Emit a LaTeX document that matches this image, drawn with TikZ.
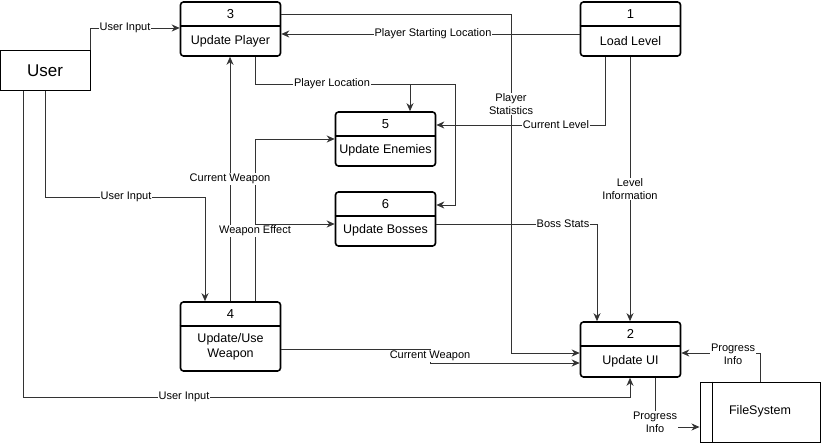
\documentclass[tikz,border=0pt]{standalone}
\usepackage{fontspec}
\setmainfont{Liberation Sans}
\usetikzlibrary{arrows.meta}
\begin{document}
\begin{tikzpicture}[x=1pt,y=-1pt,
  pbox/.style={draw, line width=1.6pt, rounded corners=3pt, minimum width=100pt, inner sep=0pt},
  divline/.style={line width=1.4pt},
  numtxt/.style={font=\fontsize{13}{15}\selectfont, inner sep=0pt},
  boxtxt/.style={font=\fontsize{12.5}{14.5}\selectfont, inner sep=0pt, align=center},
  conn/.style={line width=0.9pt, draw=black!80},
  arr/.style={conn, -{Stealth[length=8pt,width=7pt,inset=2.5pt]}},
  lbl/.style={fill=white, inner sep=0.6pt, font=\fontsize{11}{13}\selectfont, align=center}
]
\useasboundingbox (0,0) rectangle (821,443);

% external entities
\node[draw, line width=1pt, minimum width=90pt, minimum height=40pt, inner sep=0pt,
      font=\fontsize{17}{20}\selectfont] (user) at (45,71) {User};
\node[draw, line width=1pt, minimum width=120pt, minimum height=60pt, inner sep=0pt] (fs) at (760,412) {};
\draw[line width=1pt] (fs.north -| 712,0) -- (fs.south -| 712,0);
\node[boxtxt] (fst) at (760,411) {FileSystem};

% process boxes
\node[pbox, minimum height=54pt] (b3) at (230.5,29) {};
\draw[divline] (b3.west |- 0,26) -- (b3.east |- 0,26);
\node[numtxt] (b3n) at (230.5,14) {3};
\node[boxtxt] (b3t) at (230.5,41) {Update Player};

\node[pbox, minimum height=54pt] (b1) at (630.5,29) {};
\draw[divline] (b1.west |- 0,26) -- (b1.east |- 0,26);
\node[numtxt] (b1n) at (630.5,14) {1};
\node[boxtxt] (b1t) at (630.5,41) {Load Level};

\node[pbox, minimum height=54pt] (b5) at (385.5,139) {};
\draw[divline] (b5.west |- 0,136) -- (b5.east |- 0,136);
\node[numtxt] (b5n) at (385.5,124) {5};
\node[boxtxt] (b5t) at (385.5,150) {Update Enemies};

\node[pbox, minimum height=54pt] (b6) at (385.5,219) {};
\draw[divline] (b6.west |- 0,216) -- (b6.east |- 0,216);
\node[numtxt] (b6n) at (385.5,204) {6};
\node[boxtxt] (b6t) at (385.5,230) {Update Bosses};

\node[pbox, minimum height=69pt] (b4) at (230.5,336.5) {};
\draw[divline] (b4.west |- 0,326) -- (b4.east |- 0,326);
\node[numtxt] (b4n) at (230.5,314) {4};
\node[boxtxt] (b4t) at (230.5,347) {Update/Use\\Weapon};

\node[pbox, minimum height=55pt] (b2) at (630.5,349.5) {};
\draw[divline] (b2.west |- 0,346) -- (b2.east |- 0,346);
\node[numtxt] (b2n) at (630.5,334) {2};
\node[boxtxt] (b2t) at (630.5,361) {Update UI};

% connectors
\draw[arr] (user.north east) |- (b3.west |- 0,28);
\draw[arr] (b3.east |- 0,14) -- (511,14) |- (b2.west |- 0,353);
\draw[arr] (b1.west |- 0,34) -- (b3.east |- 0,34);
\coordinate (pl) at (410,84);
\draw[arr] (b3.south -| 255,0) |- (pl) -- (b5.north -| pl);
\draw[arr] (pl) -| (455,205) -- (b6.east |- 0,205);
\draw[arr] (b1.south -| 605,0) |- (b5.east |- 0,125);
\draw[arr] (b1.south -| 630,0) -- (b2.north -| 630,0);
\draw[arr] (user.south -| 45,0) |- (205,197) -- (b4.north -| 205,0);
\draw[arr] (user.south -| 23,0) |- (630,397) -- (b2.south -| 630,0);
\draw[arr] (b4.north -| 230,0) -- (b3.south -| 230,0);
\draw[arr] (b4.north -| 255,0) |- (b5.west |- 0,139);
\coordinate (we) at (255,224);
\draw[arr] (we) -- (b6.west |- we);
\draw[arr] (b4.east |- 0,349) -- (430,349) |- (b2.west |- 0,363);
\draw[arr] (b6.east |- 0,224) -| (b2.north -| 597,0);
\draw[arr] (fs.north -| 760,0) |- (b2.east |- 0,353);
\draw[arr] (b2.south -| 655,0) |- (fs.west |- 0,427);

% labels
\node[lbl] (l1) at (125,28) {User Input};
\node[lbl] (l2) at (511,104) {Player\\Statistics};
\node[lbl] (l3) at (433,34) {Player Starting Location};
\node[lbl] (l4) at (332,84) {Player Location};
\node[lbl] (l5) at (556,125) {Current Level};
\node[lbl] (l6) at (630,189) {Level\\Information};
\node[lbl] (l7) at (126,197) {User Input};
\node[lbl] (l8) at (184,397) {User Input};
\node[lbl] (l9) at (230,179) {Current Weapon};
\node[lbl] (l10) at (255,231) {Weapon Effect};
\node[lbl] (l11) at (430,356) {Current Weapon};
\node[lbl] (l12) at (563,224) {Boss Stats};
\node[lbl] (l13) at (733,354) {Progress\\Info};
\node[lbl] (l14) at (655,422) {Progress\\Info};
\end{tikzpicture}
\end{document}
